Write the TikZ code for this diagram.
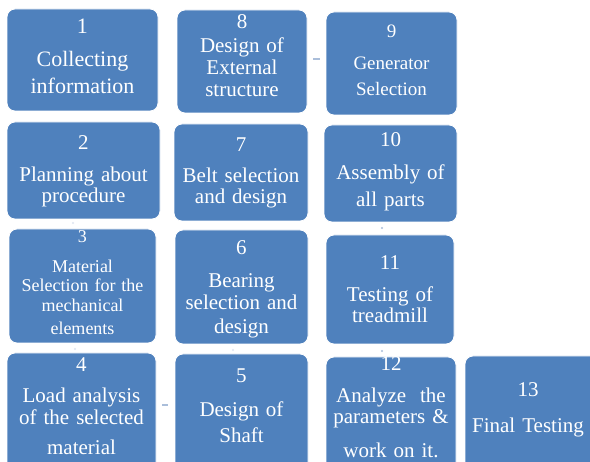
\documentclass[tikz,border=0pt]{standalone}
\usepackage{fontspec}
\setmainfont{Liberation Serif}
\definecolor{boxblue}{RGB}{79,129,189}
\definecolor{linkgray}{RGB}{170,190,218}
\tikzset{
  boxshape/.style={draw=white, line width=0.8pt, fill=boxblue, rounded corners=8pt},
  lbl/.style={text=white, align=center, inner sep=0pt, anchor=base},
  linkmark/.style={draw=linkgray, line width=1.6pt},
  linkdot/.style={fill=linkgray, inner sep=0pt, minimum size=2.2pt, circle}
}
\newcommand{\fs}[2]{\fontsize{#1}{#2}\selectfont}
\begin{document}
\begin{tikzpicture}[x=1pt, y=-1pt]
\useasboundingbox (0,0) rectangle (590,462);
\fill[white] (0,0) rectangle (590,462);
% boxes
\draw[boxshape] (7,9) rectangle (158,111);
\draw[boxshape] (177,10) rectangle (307,113);
\draw[boxshape] (326,12) rectangle (457,115);
\draw[boxshape] (7,122) rectangle (160,219);
\draw[boxshape] (174,124) rectangle (308,221);
\draw[boxshape] (324,125) rectangle (457,222);
\draw[boxshape] (9,229) rectangle (156,343);
\draw[boxshape] (175,230) rectangle (308,344);
\draw[boxshape] (326,235) rectangle (454,344);
\draw[boxshape] (7,353) rectangle (156,480);
\draw[boxshape] (175,354) rectangle (308,480);
\draw[boxshape] (326,357) rectangle (456,480);
\draw[boxshape] (465,356) rectangle (600,480);
% texts
\node[lbl, text width=150pt, font=\fs{22}{27}] (t1) at (82.5,34) {1\\[6pt]Collecting\\information};
\node[lbl, text width=130pt, font=\fs{21}{22}] (t8) at (242,29) {8\\[2pt]Design of\\External\\structure};
\node[lbl, text width=130pt, font=\fs{19}{26}] (t9) at (391.5,38) {9\\[6pt]Generator\\Selection};
\node[lbl, text width=150pt, font=\fs{21}{21}] (t2) at (83.5,150) {2\\[11pt]Planning about\\procedure};
\node[lbl, text width=134pt, font=\fs{21}{21}] (t7) at (241,152) {7\\[10pt]Belt selection\\and design};
\node[lbl, text width=133pt, font=\fs{21}{27}] (t10) at (390.5,147) {10\\[6pt]Assembly of\\all parts};
\node[lbl, text width=147pt, font=\fs{18}{19.5}] (t3) at (82.5,243) {3\\[10pt]Material\\Selection for the\\mechanical\\[4pt]elements};
\node[lbl, text width=133pt, font=\fs{21}{22}] (t6) at (241.5,255) {6\\[11pt]Bearing\\selection and\\[2pt]design};
\node[lbl, text width=128pt, font=\fs{21}{21}] (t11) at (390,270) {11\\[11pt]Testing of\\treadmill};
\node[lbl, text width=149pt, font=\fs{21}{22}] (t4) at (81.5,372) {4\\[9pt]Load analysis\\of the selected\\[8pt]material};
\node[lbl, text width=133pt, font=\fs{21}{26}] (t5) at (241.5,383) {5\\[8pt]Design of\\Shaft};
\node[lbl, text width=130pt, font=\fs{21}{21}] (t12) at (391,371) {12\\[11pt]Analyze\ \ the\\parameters \&\\[13pt]work on it.};
\node[lbl, text width=130pt, font=\fs{21}{36}] (t13) at (528,397) {13\\Final Testing};
% faint connector remnants
\coordinate (c89a) at (313,59);
\coordinate (c89b) at (320,59);
\draw[linkmark] (c89a) -- (c89b);
\coordinate (c45a) at (162,405);
\coordinate (c45b) at (168,405);
\draw[linkmark] (c45a) -- (c45b);
\node[linkdot] (d1011) at (382,228) {};
\node[linkdot] (d1112) at (382,351) {};
\node[linkdot, fill=linkgray!40] (d12) at (73,223) {};
\node[linkdot, fill=linkgray!40] (d34) at (75,349) {};
\node[linkdot, fill=linkgray!40] (d65) at (233,350) {};
\end{tikzpicture}
\end{document}
